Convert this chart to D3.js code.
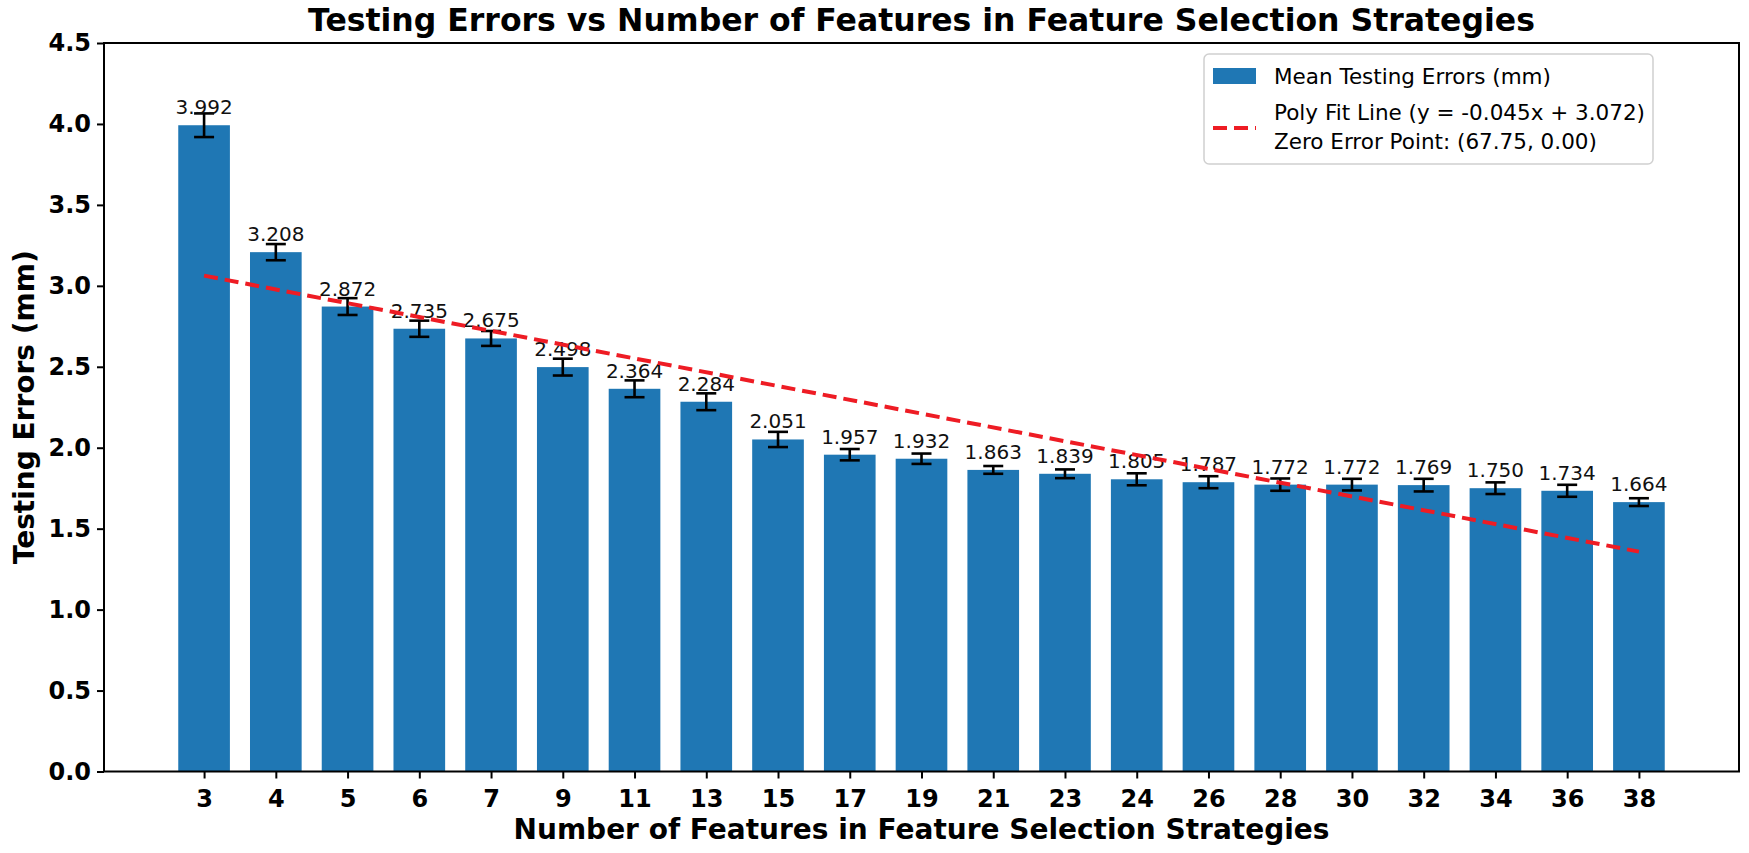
<!DOCTYPE html>
<html>
<head>
<meta charset="utf-8">
<script src="https://cdn.jsdelivr.net/npm/d3@7"></script>
<style>
  html, body { margin: 0; padding: 0; background: #fff; }
  svg { display: block; font-family: "DejaVu Sans", sans-serif; }
</style>
</head>
<body>
<svg id="chart" width="1749" height="853"></svg>
<script>
// ---- data ----
const features = ["3","4","5","6","7","9","11","13","15","17","19","21","23","24","26","28","30","32","34","36","38"];
const meanErrors = [3.992,3.208,2.872,2.735,2.675,2.498,2.364,2.284,2.051,1.957,1.932,1.863,1.839,1.805,1.787,1.772,1.772,1.769,1.750,1.734,1.664];
const stdErrors = [0.073,0.050,0.052,0.050,0.046,0.052,0.052,0.052,0.047,0.035,0.032,0.024,0.027,0.037,0.037,0.038,0.036,0.039,0.036,0.037,0.024];
const fitLineEnds = [3.063, 1.358]; // fit line values at first and last category
const yTicks = [0.0,0.5,1.0,1.5,2.0,2.5,3.0,3.5,4.0,4.5];
const titleText = "Testing Errors vs Number of Features in Feature Selection Strategies";
const xLabel = "Number of Features in Feature Selection Strategies";
const yLabel = "Testing Errors (mm)";
const legendBar = "Mean Testing Errors (mm)";
const legendLine = ["Poly Fit Line (y = -0.045x + 3.072)", "Zero Error Point: (67.75, 0.00)"];

// ---- layout ----
const L = 104, R = 1739, T = 43, B = 771.5;
const svg = d3.select("#chart");
const n = features.length;
const x = d3.scaleLinear().domain([-1.395, n - 1 + 1.395]).range([L, R]);
const y = d3.scaleLinear().domain([0, 4.5]).range([B, T]);
const barW = x(0.72) - x(0);
const barColor = "#1f77b4";

// bars
svg.append("g").selectAll("rect").data(meanErrors).join("rect")
  .attr("x", (d, i) => x(i) - barW / 2)
  .attr("y", d => y(d))
  .attr("width", barW)
  .attr("height", d => y(0) - y(d))
  .attr("fill", barColor);

// error bars
const eg = svg.append("g").attr("stroke", "#000").attr("stroke-width", 2.6);
meanErrors.forEach((m, i) => {
  const e = stdErrors[i], cx = x(i);
  eg.append("line").attr("x1", cx).attr("x2", cx).attr("y1", y(m - e)).attr("y2", y(m + e));
  eg.append("line").attr("x1", cx - 10).attr("x2", cx + 10).attr("y1", y(m - e)).attr("y2", y(m - e));
  eg.append("line").attr("x1", cx - 10).attr("x2", cx + 10).attr("y1", y(m + e)).attr("y2", y(m + e));
});

// value labels
svg.append("g").selectAll("text").data(meanErrors).join("text")
  .attr("x", (d, i) => x(i))
  .attr("y", d => y(d) - 11)
  .attr("text-anchor", "middle")
  .attr("font-size", 20)
  .attr("fill", "#111")
  .text(d => d.toFixed(3));

// fit line
svg.append("line")
  .attr("x1", x(0)).attr("y1", y(fitLineEnds[0]))
  .attr("x2", x(n - 1)).attr("y2", y(fitLineEnds[1]))
  .attr("stroke", "#ee1c24").attr("stroke-width", 4)
  .attr("stroke-dasharray", "14,7");

// axes
const xAxis = d3.axisBottom(x).tickValues(d3.range(n)).tickFormat(i => features[i]).tickSize(7).tickPadding(6);
const yAxis = d3.axisLeft(y).tickValues(yTicks).tickFormat(d3.format(".1f")).tickSize(7).tickPadding(6);
const gx = svg.append("g").attr("transform", `translate(0,${B})`).call(xAxis);
const gy = svg.append("g").attr("transform", `translate(${L},0)`).call(yAxis);
[gx, gy].forEach(g => {
  g.select(".domain").remove();
  g.selectAll(".tick line").attr("stroke", "#000").attr("stroke-width", 2);
  g.selectAll(".tick text").attr("font-size", 24).attr("font-weight", "bold")
    .attr("font-family", "DejaVu Sans").attr("fill", "#000");
});
gx.selectAll(".tick text").attr("dy", "0.95em");

// frame
svg.append("rect").attr("x", L).attr("y", T).attr("width", R - L).attr("height", B - T)
  .attr("fill", "none").attr("stroke", "#000").attr("stroke-width", 2);

// title & labels
svg.append("text").attr("x", (L + R) / 2).attr("y", 31).attr("text-anchor", "middle")
  .attr("font-size", 31.5).attr("font-weight", "bold").text(titleText);
svg.append("text").attr("x", (L + R) / 2).attr("y", 839).attr("text-anchor", "middle")
  .attr("font-size", 28).attr("font-weight", "bold").text(xLabel);
svg.append("text").attr("transform", `translate(34,${(T + B) / 2}) rotate(-90)`)
  .attr("text-anchor", "middle").attr("font-size", 28).attr("font-weight", "bold").text(yLabel);

// legend
const lg = svg.append("g");
lg.append("rect").attr("x", 1204).attr("y", 54).attr("width", 449).attr("height", 110)
  .attr("rx", 5).attr("fill", "#fff").attr("fill-opacity", 0.8).attr("stroke", "#d0d0d0").attr("stroke-width", 1.5);
lg.append("rect").attr("x", 1213).attr("y", 68).attr("width", 43).attr("height", 16).attr("fill", barColor);
lg.append("text").attr("x", 1274).attr("y", 84).attr("font-size", 21.5).text(legendBar);
lg.append("line").attr("x1", 1213).attr("x2", 1256).attr("y1", 128).attr("y2", 128)
  .attr("stroke", "#ee1c24").attr("stroke-width", 4).attr("stroke-dasharray", "14,7");
legendLine.forEach((t, k) => {
  lg.append("text").attr("x", 1274).attr("y", 120 + k * 28.5).attr("font-size", 21.5).text(t);
});
</script>
</body>
</html>
